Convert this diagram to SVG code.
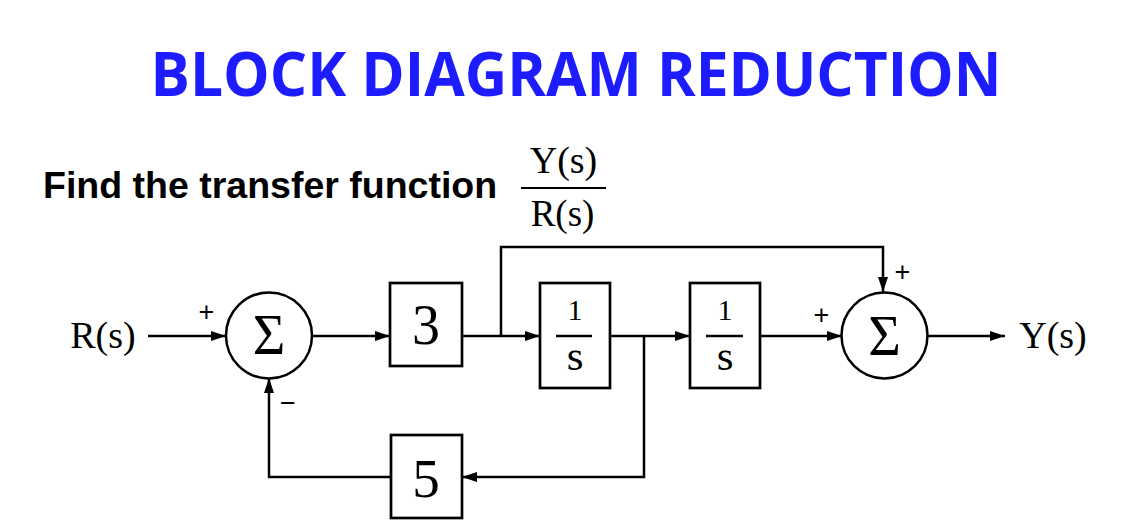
<svg xmlns="http://www.w3.org/2000/svg" width="1142" height="532" viewBox="0 0 1142 532">
<style>
.ln{fill:none;stroke:#000;stroke-width:2.5;stroke-linejoin:miter}
.bx{fill:#fff;stroke:#000;stroke-width:2.7}
.sv{font-family:"Liberation Serif","Times New Roman",serif;fill:#000;text-anchor:middle}
.sg{font-family:"Liberation Sans",Arial,sans-serif;fill:#000;text-anchor:middle;font-size:27px}
</style>
<defs>
<marker id="ah" markerUnits="userSpaceOnUse" markerWidth="16" markerHeight="11" refX="15" refY="5" orient="auto">
<path d="M0,0 L15,5 L0,10 z" fill="#000"/>
</marker>
</defs>
<rect width="1142" height="532" fill="#fff"/>
<text x="150.5" y="96" font-family="'Open Sans','Noto Sans',sans-serif" font-weight="bold" font-size="61" fill="#1c1cff" textLength="851" lengthAdjust="spacingAndGlyphs">BLOCK DIAGRAM REDUCTION</text>
<g id="question">
<text x="43" y="198" font-family="'Liberation Sans',Arial,sans-serif" font-weight="bold" font-size="37.5" fill="#000">Find the transfer function</text>
<text class="sv" x="563.5" y="173" font-size="38">Y(s)</text>
<line x1="521" y1="188" x2="606" y2="188" stroke="#000" stroke-width="2"/>
<text class="sv" x="562.5" y="226" font-size="37">R(s)</text>
</g>
<g id="connectors">
<line class="ln" x1="148" y1="336" x2="226" y2="336" marker-end="url(#ah)"/>
<line class="ln" x1="312" y1="336" x2="390" y2="336" marker-end="url(#ah)"/>
<line class="ln" x1="462" y1="336" x2="540" y2="336" marker-end="url(#ah)"/>
<polyline class="ln" points="501,336 501,247 883,247 883,292" marker-end="url(#ah)"/>
<line class="ln" x1="610" y1="336" x2="690" y2="336" marker-end="url(#ah)"/>
<polyline class="ln" points="644,336 644,477 462,477" marker-end="url(#ah)"/>
<polyline class="ln" points="391,477 269,477 269,378" marker-end="url(#ah)"/>
<line class="ln" x1="760" y1="336" x2="842" y2="336" marker-end="url(#ah)"/>
<line class="ln" x1="927" y1="336" x2="1005" y2="336" marker-end="url(#ah)"/>
</g>
<g id="input">
<text class="sv" x="103" y="348" font-size="38">R(s)</text>
</g>
<g id="sum1">
<circle cx="269" cy="335.5" r="43" fill="#fff" stroke="#000" stroke-width="2.5"/>
<text class="sv" x="269" y="354" font-size="56">Σ</text>
<text class="sg" x="206.5" y="321">+</text>
<text class="sg" x="288" y="412">−</text>
</g>
<g id="gain3">
<rect class="bx" x="390" y="283" width="72" height="83"/>
<text class="sv" x="426" y="344" font-size="56">3</text>
</g>
<g id="integrator1">
<rect class="bx" x="540" y="283" width="70" height="105"/>
<text class="sv" x="575" y="319.5" font-size="30">1</text>
<line x1="556" y1="336" x2="592" y2="336" stroke="#000" stroke-width="2.5"/>
<text class="sv" x="575" y="370" font-size="43">s</text>
</g>
<g id="integrator2">
<rect class="bx" x="690" y="283" width="70" height="105"/>
<text class="sv" x="725" y="319.5" font-size="30">1</text>
<line x1="706" y1="336" x2="743" y2="336" stroke="#000" stroke-width="2.5"/>
<text class="sv" x="725" y="370" font-size="43">s</text>
</g>
<g id="gain5">
<rect class="bx" x="391" y="435" width="71" height="83"/>
<text class="sv" x="426" y="497" font-size="55">5</text>
</g>
<g id="sum2">
<circle cx="884.5" cy="335.5" r="43" fill="#fff" stroke="#000" stroke-width="2.5"/>
<text class="sv" x="884.5" y="355" font-size="56">Σ</text>
<text class="sg" x="902.5" y="281">+</text>
<text class="sg" x="821.5" y="323.5">+</text>
</g>
<g id="output">
<text class="sv" x="1053" y="348" font-size="38">Y(s)</text>
</g>
</svg>
